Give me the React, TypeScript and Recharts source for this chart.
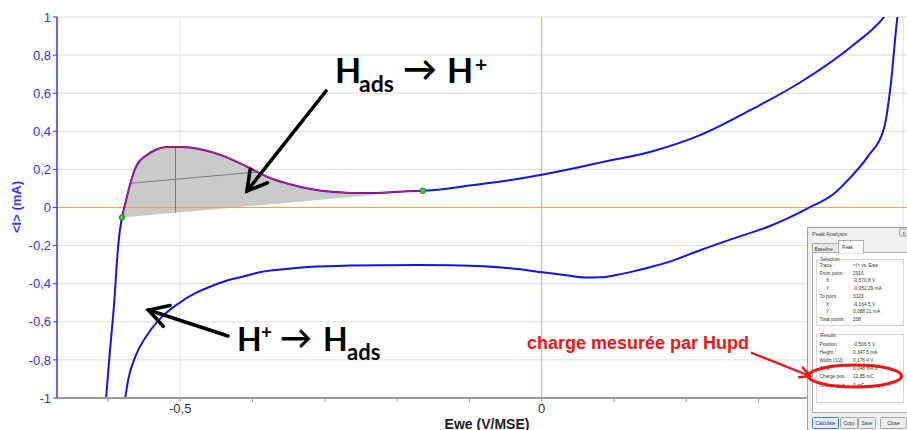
import React from 'react';
import {
  ComposedChart, Line, Area, XAxis, YAxis, CartesianGrid, ReferenceLine, ReferenceDot,
} from 'recharts';

// forward (anodic) sweep, E in V/MSE, I in mA
const fwdE = [
  -0.6025, -0.599, -0.595, -0.591, -0.588, -0.585, -0.5805, -0.576, -0.569, -0.56, -0.546, -0.532,
  -0.519, -0.509, -0.497, -0.486, -0.463, -0.44, -0.417, -0.394, -0.371, -0.348, -0.325, -0.302,
  -0.279, -0.256, -0.233, -0.209, -0.186, -0.1645, -0.14, -0.1, -0.05, 0, 0.05, 0.082, 0.151,
  0.22, 0.289, 0.359, 0.428, 0.473, 0.49,
];
const fwdI = [
  -1.0, -0.836, -0.661, -0.486, -0.311, -0.171, -0.0523, 0.02, 0.126, 0.223, 0.276, 0.306,
  0.317, 0.318, 0.318, 0.315, 0.298, 0.27, 0.232, 0.188, 0.148, 0.122, 0.101, 0.087,
  0.08, 0.076, 0.076, 0.08, 0.085, 0.0882, 0.095, 0.115, 0.14, 0.172, 0.21, 0.237, 0.293,
  0.381, 0.512, 0.66, 0.844, 0.998, 1.09,
];

// reverse (cathodic) sweep
const revE = [
  0.497, 0.492, 0.483, 0.474, 0.451, 0.428, 0.405, 0.368, 0.313, 0.266, 0.22, 0.174, 0.151,
  0.128, 0.105, 0.082, 0.059, 0.036, 0.001, -0.034, -0.08, -0.126, -0.172, -0.218, -0.265,
  -0.311, -0.357, -0.396, -0.41, -0.433, -0.456, -0.479, -0.502, -0.525, -0.544, -0.562,
  -0.572, -0.576,
];
const revI = [
  1.1, 0.998, 0.652, 0.424, 0.267, 0.162, 0.075, -0.004, -0.101, -0.162, -0.223, -0.288, -0.312,
  -0.334, -0.353, -0.366, -0.367, -0.357, -0.34, -0.323, -0.308, -0.303, -0.302, -0.303, -0.305,
  -0.31, -0.324, -0.345, -0.36, -0.381, -0.412, -0.45, -0.503, -0.573, -0.66, -0.783,
  -0.906, -1.0,
];

// peak analysis (Hupd desorption)
const peakFrom = { E: -0.5805, I: -0.0523 };
const peakTo = { E: -0.1645, I: 0.0882 };
const peakPos = -0.5065;
const peakTop = 0.3175;
const halfWidthFrom = { E: -0.569, I: 0.127 };
const halfWidthTo = { E: -0.395, I: 0.186 };

const xTicks = [-0.6, -0.5, -0.4, -0.3, -0.2, -0.1, 0, 0.1, 0.2, 0.3, 0.4, 0.5];
const yTicks = [-1, -0.8, -0.6, -0.4, -0.2, 0, 0.2, 0.4, 0.6, 0.8, 1];

const selectionRows = [
  ['Trace :', '<I> vs. Ewe', false],
  ['From point :', '2916', false],
  ['X :', '-0,570 8 V', true],
  ['Y :', '-0,052 29 mA', true],
  ['To point :', '3123', false],
  ['X :', '-0,164 5 V', true],
  ['Y :', '0,088 21 mA', true],
  ['Total points :', '208', false],
];
const resultRows = [
  ['Position :', '-0,506 5 V'],
  ['Height :', '0,347 5 mA'],
  ['Width (1/2) :', '0,176 4 V'],
  ['Area :', '0,048 mA.V'],
  ['Charge pos. :', '12,85 mC'],
  ['Charge neg. :', '0 mC'],
];
const buttons = [
  ['Calculate', 812, 26],
  ['Copy', 840, 17],
  ['Save', 858, 17],
  ['Close', 880, 26],
];

const baseAt = (e: number) =>
  peakFrom.I + ((e - peakFrom.E) * (peakTo.I - peakFrom.I)) / (peakTo.E - peakFrom.E);

const rows = [
  ...fwdE.map((e, i) => {
    const inPeak = e >= peakFrom.E - 1e-6 && e <= peakTo.E + 1e-6;
    return {
      E: e,
      fwd: fwdI[i],
      band: inPeak ? [baseAt(e), fwdI[i]] : undefined,
      peak: inPeak ? fwdI[i] : undefined,
    };
  }),
  ...revE.map((e, i) => ({ E: e, rev: revI[i] })),
];

const fmtComma = (v: number) => String(Math.round(v * 10) / 10).replace('.', ',');
const fmtX = (v: number) => (Math.abs(v * 2 - Math.round(v * 2)) < 1e-6 ? fmtComma(v) : '');

const BLUE = '#1212f5';
const AXIS_BLUE = '#3434ff';
const ORANGE = '#f4a25a';
const FONT = "'Liberation Sans', Arial, sans-serif";
const CAL = "Lato, 'Open Sans', sans-serif";

function Arrow({ x1, y1, x2, y2, color, width, arm, spread }: {
  x1: number; y1: number; x2: number; y2: number; color: string; width: number; arm: number; spread: number;
}) {
  const a = Math.atan2(y1 - y2, x1 - x2);
  const r = (spread * Math.PI) / 180;
  const p1 = [x2 + arm * Math.cos(a + r), y2 + arm * Math.sin(a + r)];
  const p2 = [x2 + arm * Math.cos(a - r), y2 + arm * Math.sin(a - r)];
  return (
    <g stroke={color} strokeWidth={width} fill="none" strokeLinecap="round" strokeLinejoin="miter">
      <line x1={x1} y1={y1} x2={x2} y2={y2} />
      <polyline points={`${p1[0]},${p1[1]} ${x2},${y2} ${p2[0]},${p2[1]}`} />
    </g>
  );
}

function PeakDialog() {
  return (
    <g fontFamily={FONT} fontSize={4.8} fill="#333">
      <rect x={807.5} y={227.5} width={110} height={210} fill="#f0f0f0" stroke="#a0a0a0" />
      <text x={812} y={235.5} fontSize={5.6} fill="#444">Peak Analysis</text>
      <rect x={899.5} y={229} width={12} height={7} fill="#e9e9e9" stroke="#a8a8a8" rx={1} />
      <text x={902.5} y={234.5} fontSize={5}>x</text>

      <rect x={812.5} y={252.5} width={100} height={160} fill="#ffffff" stroke="#adadad" />
      <rect x={812.5} y={243.5} width={26} height={9} fill="#e8e8e8" stroke="#adadad" />
      <text x={814.5} y={250.5}>Baseline</text>
      <rect x={838.5} y={240.5} width={25} height={12.5} fill="#ffffff" stroke="#adadad" />
      <line x1={839} y1={252.7} x2={863} y2={252.7} stroke="#ffffff" strokeWidth={1.2} />
      <text x={842} y={248.5}>Peak</text>

      <rect x={816.5} y={259.5} width={87} height={66} fill="none" stroke="#d6d6d6" />
      <rect x={819} y={256} width={20} height={6} fill="#ffffff" />
      <text x={820} y={261}>Selection</text>
      {selectionRows.map(([k, v, indent], i) => (
        <g key={`s${i}`}>
          <text x={indent ? 826 : 819.5} y={267 + i * 7.7}>{k as string}</text>
          <text x={853} y={267 + i * 7.7}>{v as string}</text>
        </g>
      ))}

      <rect x={816.5} y={334.5} width={87} height={68} fill="none" stroke="#d6d6d6" />
      <rect x={819} y={331} width={17} height={6} fill="#ffffff" />
      <text x={820} y={336.5}>Results</text>
      {resultRows.map(([k, v], i) => (
        <g key={`r${i}`}>
          <text x={819.5} y={345.5 + i * 8.2}>{k}</text>
          <text x={853} y={345.5 + i * 8.2}>{v}</text>
        </g>
      ))}

      {buttons.map(([label, x, w]) => (
        <g key={label as string}>
          <rect
            x={(x as number) + 0.5} y={417.5} width={w as number} height={11} rx={1}
            fill={label === 'Calculate' ? '#e3eefb' : '#ececec'}
            stroke={label === 'Calculate' ? '#3c7fd6' : '#a6a6a6'}
          />
          <text x={(x as number) + (w as number) / 2 + 0.5} y={425} textAnchor="middle">{label as string}</text>
        </g>
      ))}
    </g>
  );
}

function Overlay() {
  return (
    <svg
      width={907} height={430}
      style={{ position: 'absolute', left: 0, top: 0, pointerEvents: 'none' }}
    >
      {/* axis titles */}
      <text
        x={21} y={207} transform="rotate(-90 21 207)" textAnchor="middle"
        fontFamily={FONT} fontWeight="bold" fontSize={13} fill={AXIS_BLUE}
      >
        {'<I> (mA)'}
      </text>
      <text x={487} y={428.5} textAnchor="middle" fontFamily={FONT} fontWeight="bold" fontSize={14} fill="#222">
        Ewe (V/MSE)
      </text>

      {/* Hads -> H+ */}
      <g fontFamily={CAL} fontWeight="bold" fill="#000">
        <text x={335} y={83} fontSize={34}>H</text>
        <text x={359} y={92} fontSize={23}>ads</text>
        <text x={403} y={81} fontSize={34}>→</text>
        <text x={447} y={83} fontSize={34}>H</text>
        <text x={475} y={72} fontSize={21}>+</text>
      </g>
      <Arrow x1={326} y1={91} x2={247} y2={191} color="#000" width={3.6} arm={22} spread={30} />

      {/* H+ -> Hads */}
      <g fontFamily={CAL} fontWeight="bold" fill="#000">
        <text x={237} y={351} fontSize={32}>H</text>
        <text x={261} y={339} fontSize={19}>+</text>
        <text x={280} y={349} fontSize={32}>→</text>
        <text x={323} y={351} fontSize={32}>H</text>
        <text x={347} y={360} fontSize={22}>ads</text>
      </g>
      <Arrow x1={228} y1={336} x2={148.5} y2={310} color="#000" width={3.6} arm={22} spread={30} />

      <PeakDialog />

      {/* charge annotation */}
      <text x={527} y={349} fontFamily={FONT} fontWeight="bold" fontSize={18} fill="#f21414">
        charge mesurée par Hupd
      </text>
      <Arrow x1={752} y1={353} x2={810} y2={376} color="#f21414" width={2.4} arm={11} spread={28} />
      <ellipse cx={855} cy={376} rx={46.5} ry={11} fill="none" stroke="#f21414" strokeWidth={3} />
    </svg>
  );
}

export default function App() {
  return (
    <div style={{ position: 'absolute', left: 0, top: 0, width: 907, height: 430, overflow: 'hidden', background: '#fff' }}>
      <ComposedChart
        width={920}
        height={430}
        data={rows}
        margin={{ top: 17, right: 4, left: 0, bottom: 0 }}
      >
        <CartesianGrid
          vertical={false}
          horizontalValues={yTicks.filter((v) => v !== 0)}
          stroke="#dcdcdc"
        />
        <CartesianGrid horizontal={false} verticalValues={[-0.5, 0.5]} stroke="#e2e2e2" />
        <XAxis
          dataKey="E"
          type="number"
          domain={[-0.6704, 0.5177]}
          allowDataOverflow
          ticks={xTicks}
          interval={0}
          tickFormatter={fmtX}
          height={32}
          tickSize={4}
          tick={{ fill: '#333', fontSize: 13, fontFamily: FONT }}
          tickLine={{ stroke: '#9a9a9a' }}
          axisLine={{ stroke: '#9a9a9a', strokeWidth: 2 }}
        />
        <YAxis
          type="number"
          domain={[-1, 1]}
          allowDataOverflow
          ticks={yTicks}
          interval={0}
          tickFormatter={fmtComma}
          width={57}
          tickSize={4}
          tick={{ fill: AXIS_BLUE, fontSize: 13, fontFamily: FONT }}
          tickLine={{ stroke: AXIS_BLUE }}
          axisLine={{ stroke: AXIS_BLUE, strokeWidth: 1.5 }}
        />
        <ReferenceLine y={0} stroke={ORANGE} strokeWidth={1} />
        <ReferenceLine x={0} stroke={ORANGE} strokeWidth={1} />
        <Area
          dataKey="band"
          type="linear"
          stroke="none"
          fill="#c9c9c9"
          fillOpacity={1}
          isAnimationActive={false}
          activeDot={false}
        />
        <ReferenceLine
          segment={[{ x: peakPos, y: baseAt(peakPos) }, { x: peakPos, y: peakTop }]}
          stroke="#7a7a7a"
          strokeWidth={1}
        />
        <ReferenceLine
          segment={[{ x: halfWidthFrom.E, y: halfWidthFrom.I }, { x: halfWidthTo.E, y: halfWidthTo.I }]}
          stroke="#7a7a7a"
          strokeWidth={1}
        />
        <Line dataKey="fwd" type="monotone" stroke={BLUE} strokeWidth={2} dot={false} connectNulls isAnimationActive={false} />
        <Line dataKey="rev" type="monotone" stroke={BLUE} strokeWidth={2} dot={false} connectNulls isAnimationActive={false} />
        <Line dataKey="peak" type="monotone" stroke="#f01a3a" strokeWidth={1.1} dot={false} connectNulls isAnimationActive={false} />
        <ReferenceDot x={peakFrom.E} y={peakFrom.I} r={2.8} fill="#33cc33" stroke="#1d6b1d" strokeWidth={0.8} />
        <ReferenceDot x={peakTo.E} y={peakTo.I} r={2.8} fill="#33cc33" stroke="#1d6b1d" strokeWidth={0.8} />
      </ComposedChart>
      <Overlay />
    </div>
  );
}
